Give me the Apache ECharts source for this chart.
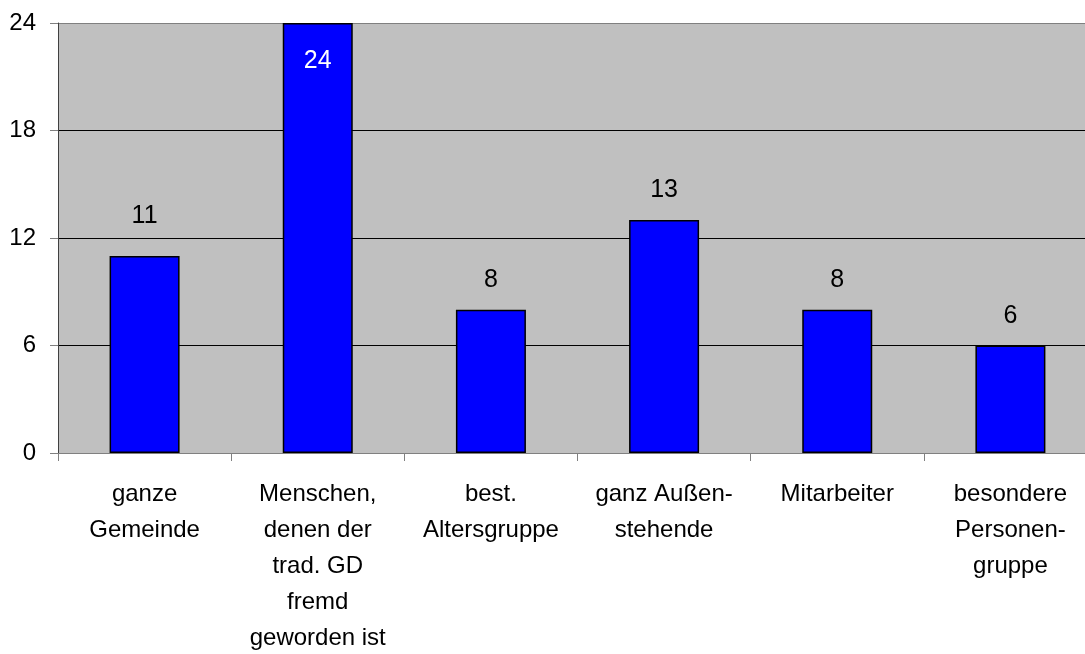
<!DOCTYPE html>
<html><head><meta charset="utf-8">
<script src="https://cdn.jsdelivr.net/npm/echarts@6/dist/echarts.min.js"></script>
<style>html,body{margin:0;padding:0;background:#fff}#c{width:1085px;height:654px}</style>
</head><body><div id="c"></div>
<script>
const categories = ["ganze\nGemeinde", "Menschen,\ndenen der\ntrad. GD\nfremd\ngeworden ist", "best.\nAltersgruppe", "ganz Außen-\nstehende", "Mitarbeiter", "besondere\nPersonen-\ngruppe"];
const values = [11, 24, 8, 13, 8, 6];
const yTicks = [0, 6, 12, 18, 24];

const font = "'Liberation Sans', Arial, sans-serif";
const chart = echarts.init(document.getElementById('c'));
chart.setOption({
  animation: false,
  grid: {left: 58, right: -12, top: 23, bottom: 201, outerBoundsMode: 'none', containLabel: false, show: true, backgroundColor: '#C0C0C0', borderWidth: 0},
  xAxis: {
    type: 'category', data: categories,
    axisLine: {lineStyle: {color: '#808080', width: 1}},
    axisTick: {show: true, length: 8, lineStyle: {color: '#808080'}},
    axisLabel: {fontFamily: font, fontSize: 24, color: '#000', lineHeight: 36, margin: 23, interval: 0}
  },
  yAxis: {
    type: 'value', min: 0, max: 24, interval: 6,
    axisLine: {show: true, lineStyle: {color: '#404040', width: 1}},
    axisTick: {show: true, length: 8, lineStyle: {color: '#808080'}},
    axisLabel: {fontFamily: font, fontSize: 24, color: '#000', margin: 22, formatter: v => yTicks.includes(v) ? String(v) : ''},
    splitLine: {show: true, lineStyle: {color: ['#808080', '#000', '#000', '#000', '#808080'], width: 1}}
  },
  series: [{
    type: 'bar', barWidth: 70,
    itemStyle: {color: '#0000FF', borderColor: '#000', borderWidth: 1.5},
    data: values.map((v, i) => v === 24 ? {value: v, label: {position: 'insideTop', distance: 26, color: '#fff'}}
                              : i === 0 ? {value: v, label: {distance: 27}} : v),
    label: {show: true, position: 'top', distance: 17, fontFamily: font, fontSize: 25, color: '#000'}
  }]
});
</script></body></html>
